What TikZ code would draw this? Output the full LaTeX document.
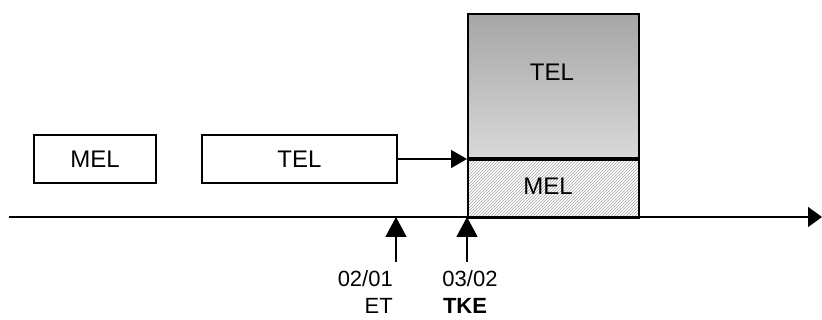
\documentclass[tikz,border=0pt]{standalone}
\usepackage{fontspec}
\setmainfont{Liberation Sans}
\usetikzlibrary{arrows.meta,positioning,patterns}

\begin{document}
\begin{tikzpicture}[
   x=1pt,y=-1pt,
   >={Triangle[length=20pt,width=21pt]},
   box/.style={draw,line width=1.6pt,minimum height=48pt,inner sep=0pt,
               font=\fontsize{24}{28}\selectfont},
   lbl/.style={inner sep=0pt,font=\fontsize{22}{26}\selectfont},
   tick/.style={->,line width=1.6pt}
  ]
  \useasboundingbox (0,0) rectangle (822,320);

  \node[box,minimum width=122pt] (mel) at (95,159) {MEL};
  \node[box,minimum width=195pt] (tel) at (299.5,159) {TEL};

  % combined block
  \node[box,anchor=south west,minimum width=171pt,minimum height=144pt,
        top color=gray!70,bottom color=gray!30] (telnew) at (467,159) {};
  \node at (552,72) [font=\fontsize{24}{28}\selectfont] (telnewtxt) {TEL};
  \node[box,anchor=north west,minimum width=171pt,minimum height=58pt,
        pattern=north east lines,pattern color=gray!70] (melnew) at (467,159) {};
  \node at (548,186) [font=\fontsize{24}{28}\selectfont] (melnewtxt) {MEL};

  \draw[->,line width=1.6pt,>={Triangle[length=16pt,width=18pt]}] (tel.east) -- (telnew.south west);

  % time axis
  \coordinate (t0) at (9,217);
  \coordinate (t1) at (822,217);
  \draw[->,line width=1.6pt,>={Triangle[length=14pt,width=20pt]}] (t0) -- (t1);

  \coordinate (et) at (396,217);
  \coordinate (tke) at (467,217);
  \node[lbl,anchor=east] (etdate) at (393,279) {02/01};
  \node[lbl,anchor=east] (etname) at (393,306) {ET};
  \node[lbl] (tkedate) at (470,279) {03/02};
  \node[lbl,font=\fontsize{22}{26}\selectfont\bfseries] (tkename) at (465,306) {TKE};
  \draw[tick] (396,262) -- (et);
  \draw[tick] (467,262) -- (tke);
\end{tikzpicture}
\end{document}
